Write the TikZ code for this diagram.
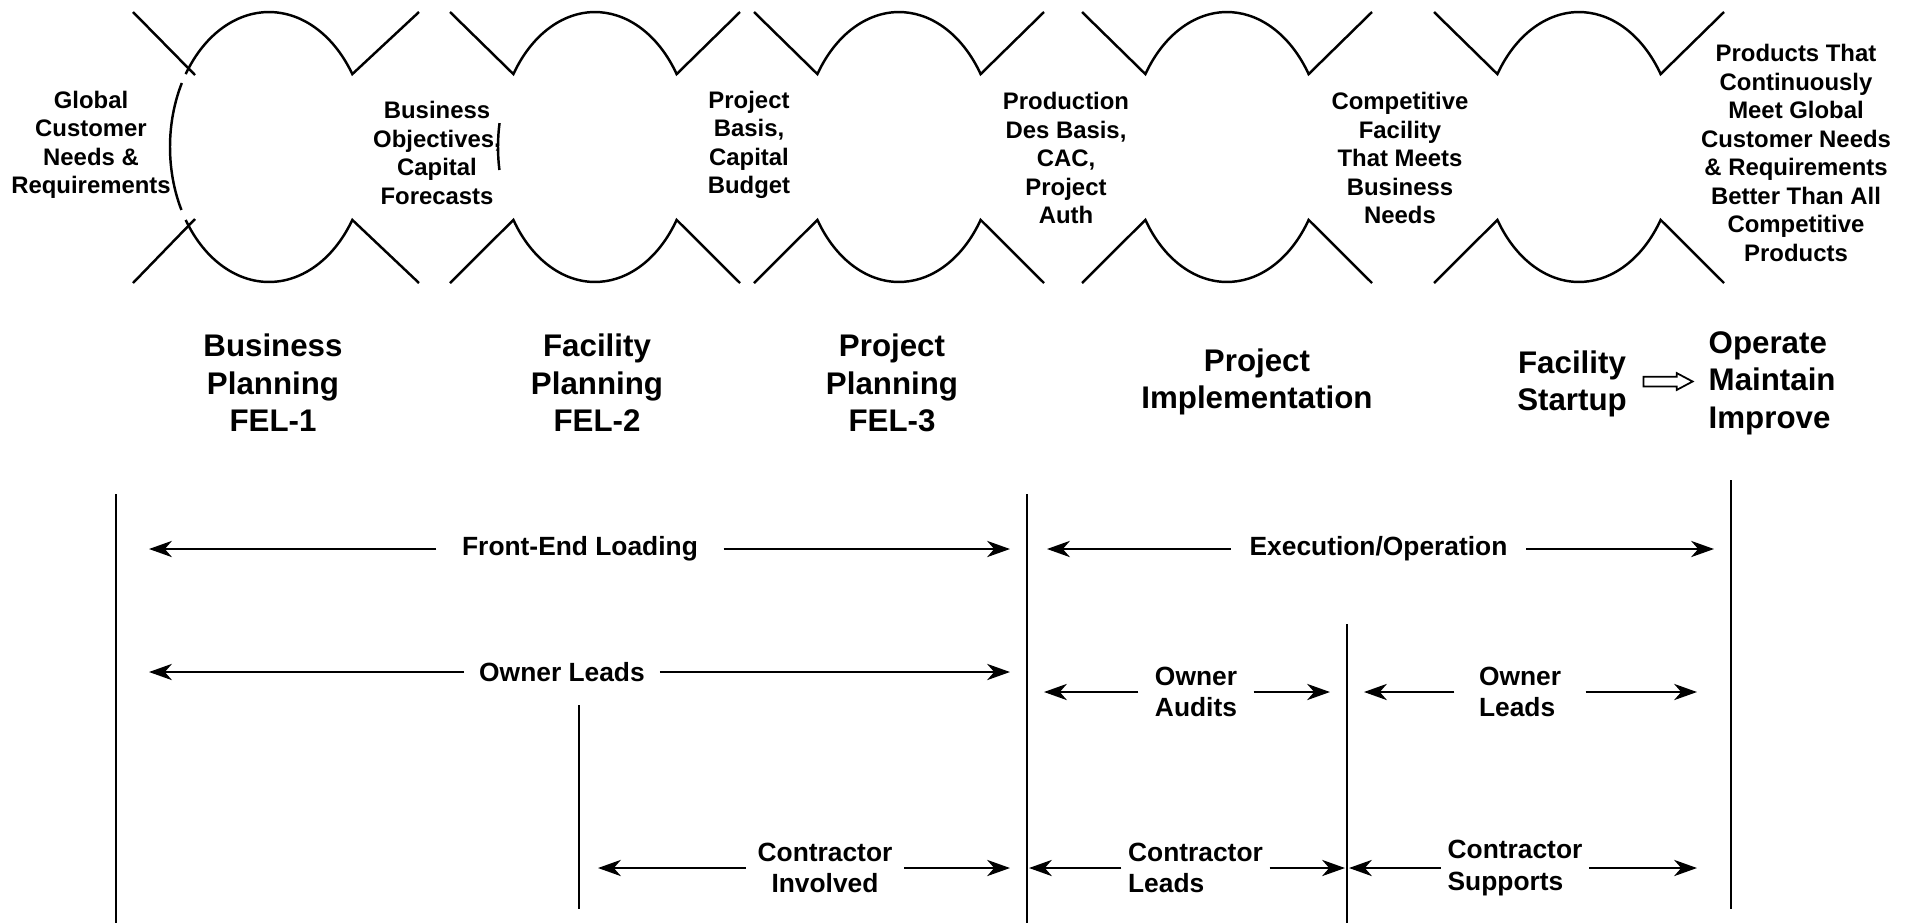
\documentclass[tikz,border=0pt]{standalone}
\usepackage{fontspec}
\setmainfont{Liberation Sans}
\usetikzlibrary{arrows.meta,shapes.arrows}
\tikzstyle{none}=[]
\tikzstyle{deliv}=[align=center,inner sep=0pt,font=\bfseries\fontsize{6.8}{8.1}\selectfont]
\tikzstyle{phase}=[align=center,inner sep=0pt,font=\bfseries\fontsize{8.9}{10.67}\selectfont]
\tikzstyle{role}=[align=center,inner ysep=0pt,inner xsep=0.15cm,font=\bfseries\fontsize{7.5}{8.96}\selectfont]
\tikzstyle{gate}=[line width=0.7pt]
\tikzstyle{rule}=[line width=0.7pt]
\tikzstyle{span}=[line width=0.7pt,-{Stealth[length=6.5pt,width=4.6pt,inset=2pt]}]
\tikzstyle{handoff}=[single arrow,draw,line width=0.5pt,inner xsep=0pt,inner ysep=0.04cm,
  minimum height=0.49cm,single arrow head extend=0.035cm,single arrow tip angle=56]

\begin{document}
\begin{tikzpicture}
	\useasboundingbox (0,0) rectangle (19.13,-9.23);
	% gates
	\draw [style=gate] (1.33,-0.12) to (1.95,-0.75);
	\draw [style=gate] (1.33,-2.83) to (1.95,-2.19);
	\draw [style=gate] (1.857,-0.741) arc [start angle=147.3, end angle=32.7, x radius=0.99, y radius=1.35] -- (4.19,-0.12);
	\draw [style=gate] (1.857,-2.199) arc [start angle=212.7, end angle=327.3, x radius=0.99, y radius=1.35] -- (4.19,-2.83);
	\draw [style=gate] (2.69,-1.47) ++(151.7:0.99 and 1.35) arc [start angle=151.7, end angle=207.8, x radius=0.99, y radius=1.35];
	\draw [style=gate] (4.50,-0.12) -- (5.134,-0.741) arc [start angle=147.3, end angle=32.7, x radius=0.97, y radius=1.35] -- (7.40,-0.12);
	\draw [style=gate] (4.50,-2.83) -- (5.134,-2.199) arc [start angle=212.7, end angle=327.3, x radius=0.97, y radius=1.35] -- (7.40,-2.83);
	\draw [style=gate] (5.95,-1.47) ++(169.8:0.97 and 1.35) arc [start angle=169.8, end angle=189.8, x radius=0.97, y radius=1.35];
	\draw [style=gate] (7.54,-0.12) -- (8.174,-0.741) arc [start angle=147.3, end angle=32.7, x radius=0.97, y radius=1.35] -- (10.44,-0.12);
	\draw [style=gate] (7.54,-2.83) -- (8.174,-2.199) arc [start angle=212.7, end angle=327.3, x radius=0.97, y radius=1.35] -- (10.44,-2.83);
	\draw [style=gate] (10.82,-0.12) -- (11.454,-0.741) arc [start angle=147.3, end angle=32.7, x radius=0.97, y radius=1.35] -- (13.72,-0.12);
	\draw [style=gate] (10.82,-2.83) -- (11.454,-2.199) arc [start angle=212.7, end angle=327.3, x radius=0.97, y radius=1.35] -- (13.72,-2.83);
	\draw [style=gate] (14.34,-0.12) -- (14.974,-0.741) arc [start angle=147.3, end angle=32.7, x radius=0.97, y radius=1.35] -- (17.24,-0.12);
	\draw [style=gate] (14.34,-2.83) -- (14.974,-2.199) arc [start angle=212.7, end angle=327.3, x radius=0.97, y radius=1.35] -- (17.24,-2.83);

	% deliverables
	\node [style=deliv] (0) at (0.91, -1.45) {Global\\Customer\\Needs \&\\Requirements};
	\node [style=deliv] (1) at (4.37, -1.53) {Business\\Objectives,\\Capital\\Forecasts};
	\node [style=deliv] (2) at (7.49, -1.45) {Project\\Basis,\\Capital\\Budget};
	\node [style=deliv] (3) at (10.66, -1.58) {Production\\Des Basis,\\CAC,\\Project\\Auth};
	\node [style=deliv] (4) at (14.00, -1.58) {Competitive\\Facility\\That Meets\\Business\\Needs};
	\node [style=deliv] (5) at (17.96, -1.53) {Products That\\Continuously\\Meet Global\\Customer Needs\\\& Requirements\\Better Than All\\Competitive\\Products};

	% phases
	\node [style=phase] (6) at (2.73, -3.83) {Business\\Planning\\FEL-1};
	\node [style=phase] (7) at (5.97, -3.83) {Facility\\Planning\\FEL-2};
	\node [style=phase] (8) at (8.92, -3.83) {Project\\Planning\\FEL-3};
	\node [style=phase] (9) at (12.57, -3.82) {Project\\Implementation};
	\node [style=phase] (10) at (15.72, -3.84) {Facility\\Startup};
	\node [style=phase, align=left, anchor=west] (11) at (17.08, -3.83) {Operate\\Maintain\\Improve};
	\node [style=handoff] (12) at (16.635, -3.815) {};

	% rules
	\node [style=none] (37) at (1.16, -4.94) {};
	\node [style=none] (38) at (1.16, -9.23) {};
	\node [style=none] (39) at (10.27, -4.94) {};
	\node [style=none] (40) at (10.27, -9.23) {};
	\node [style=none] (41) at (13.47, -6.24) {};
	\node [style=none] (42) at (13.47, -9.23) {};
	\node [style=none] (43) at (17.31, -4.80) {};
	\node [style=none] (44) at (17.31, -9.09) {};
	\node [style=none] (45) at (5.79, -7.05) {};
	\node [style=none] (46) at (5.79, -9.09) {};
	\draw [style=rule] (37.center) to (38.center);
	\draw [style=rule] (39.center) to (40.center);
	\draw [style=rule] (41.center) to (42.center);
	\draw [style=rule] (43.center) to (44.center);
	\draw [style=rule] (45.center) to (46.center);

	% roles
	\node [style=role, inner xsep=0.25cm] (13) at (5.80, -5.49) {Front-End Loading};
	\node [style=role, inner xsep=0.18cm] (14) at (13.785, -5.49) {Execution/Operation};
	\node [style=role, inner xsep=0.145cm] (15) at (5.62, -6.72) {Owner Leads};
	\node [style=role, align=left, inner xsep=0.16cm] (16) at (11.96, -6.92) {Owner\\Audits};
	\node [style=role, align=left, inner xsep=0.24cm] (17) at (15.20, -6.92) {Owner\\Leads};
	\node [style=role, inner xsep=0.11cm] (18) at (8.25, -8.68) {Contractor\\Involved};
	\node [style=role, align=left, inner xsep=0.06cm] (19) at (11.955, -8.68) {Contractor\\Leads};
	\node [style=role, align=left, inner xsep=0.06cm] (20) at (15.15, -8.68) {Contractor\\Supports};

	\node [style=none] (21) at (1.49, -5.49) {};
	\node [style=none] (22) at (10.10, -5.49) {};
	\node [style=none] (23) at (10.47, -5.49) {};
	\node [style=none] (24) at (17.14, -5.49) {};
	\node [style=none] (25) at (1.49, -6.72) {};
	\node [style=none] (26) at (10.10, -6.72) {};
	\node [style=none] (27) at (10.44, -6.92) {};
	\node [style=none] (28) at (13.30, -6.92) {};
	\node [style=none] (29) at (13.64, -6.92) {};
	\node [style=none] (30) at (16.97, -6.92) {};
	\node [style=none] (31) at (5.98, -8.68) {};
	\node [style=none] (32) at (10.10, -8.68) {};
	\node [style=none] (33) at (10.29, -8.68) {};
	\node [style=none] (34) at (13.45, -8.68) {};
	\node [style=none] (35) at (13.49, -8.68) {};
	\node [style=none] (36) at (16.97, -8.68) {};
	\draw [style=span] (13) to (21.center);
	\draw [style=span] (13) to (22.center);
	\draw [style=span] (14) to (23.center);
	\draw [style=span] (14) to (24.center);
	\draw [style=span] (15) to (25.center);
	\draw [style=span] (15) to (26.center);
	\draw [style=span] (16) to (27.center);
	\draw [style=span] (16) to (28.center);
	\draw [style=span] (17) to (29.center);
	\draw [style=span] (17) to (30.center);
	\draw [style=span] (18) to (31.center);
	\draw [style=span] (18) to (32.center);
	\draw [style=span] (19) to (33.center);
	\draw [style=span] (19) to (34.center);
	\draw [style=span] (20) to (35.center);
	\draw [style=span] (20) to (36.center);
\end{tikzpicture}
\end{document}
